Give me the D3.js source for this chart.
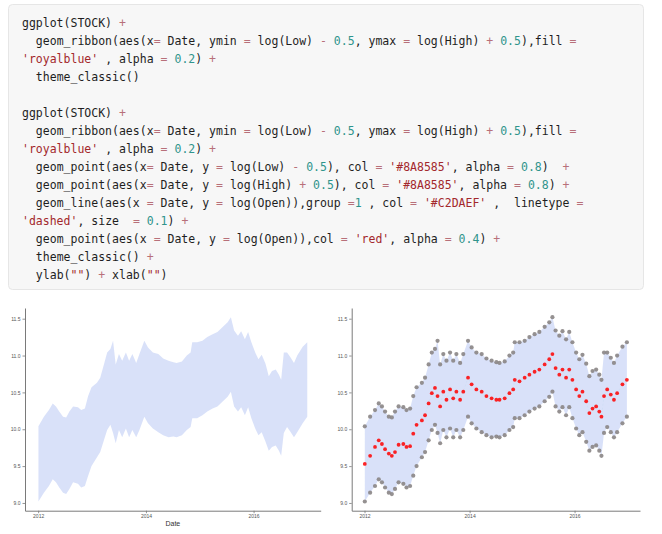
<!DOCTYPE html>
<html>
<head>
<meta charset="utf-8">
<script src="https://cdn.jsdelivr.net/npm/d3@7"></script>
<style>
  body { margin: 0; background: #fff; }
  svg { display: block; }
</style>
</head>
<body>
<svg id="page" width="662" height="534"></svg>
<script>
// R code shown above the plots
const codeLines = [
  "ggplot(STOCK) +",
  "  geom_ribbon(aes(x= Date, ymin = log(Low) - 0.5, ymax = log(High) + 0.5),fill =",
  "'royalblue' , alpha = 0.2) +",
  "  theme_classic()",
  "",
  "ggplot(STOCK) +",
  "  geom_ribbon(aes(x= Date, ymin = log(Low) - 0.5, ymax = log(High) + 0.5),fill =",
  "'royalblue' , alpha = 0.2) +",
  "  geom_point(aes(x= Date, y = log(Low) - 0.5), col = '#8A8585', alpha = 0.8)  +",
  "  geom_point(aes(x= Date, y = log(High) + 0.5), col = '#8A8585', alpha = 0.8) +",
  "  geom_line(aes(x = Date, y = log(Open)),group =1 , col = '#C2DAEF' ,  linetype =",
  "'dashed', size  = 0.1) +",
  "  geom_point(aes(x = Date, y = log(Open)),col = 'red', alpha = 0.4) +",
  "  theme_classic() +",
  "  ylab(\"\") + xlab(\"\")"
];

// STOCK data, log scale
const dates = [
  "2012-01-03","2012-02-09","2012-03-14","2012-04-09","2012-05-01","2012-05-23","2012-06-18","2012-07-09",
  "2012-07-31","2012-08-25","2012-09-27","2012-10-19","2012-11-13","2012-12-05","2012-12-28","2013-02-03",
  "2013-02-25","2013-03-22","2013-04-13","2013-05-05","2013-05-23","2013-06-10","2013-07-02","2013-07-24",
  "2013-08-18","2013-09-09","2013-10-01","2013-10-27","2013-11-18","2013-12-21","2014-01-15","2014-02-17",
  "2014-03-26","2014-04-28","2014-06-03","2014-07-06","2014-07-28","2014-09-02","2014-10-05","2014-10-31",
  "2014-11-11","2014-12-14","2015-01-19","2015-02-21","2015-03-29","2015-05-01","2015-06-07","2015-07-09",
  "2015-07-31","2015-08-22","2015-09-17","2015-10-09","2015-11-03","2015-11-25","2015-12-17","2016-01-12",
  "2016-02-03","2016-02-25","2016-03-22","2016-04-13","2016-05-05","2016-05-30","2016-06-21","2016-07-06",
  "2016-07-24","2016-08-15","2016-09-09","2016-10-01","2016-10-23","2016-11-29","2016-12-30"
];
const logOpen = [
  9.53, 9.64, 9.76, 9.85, 9.80, 9.73, 9.67, 9.64, 9.69, 9.79, 9.80, 9.76, 9.77, 9.94, 10.06, 10.12,
  10.19, 10.35, 10.49, 10.56, 10.45, 10.31, 10.51, 10.40, 10.54, 10.42, 10.51, 10.40, 10.51, 10.70, 10.61, 10.54,
  10.51, 10.45, 10.42, 10.40, 10.40, 10.42, 10.49, 10.54, 10.67, 10.65, 10.70, 10.74, 10.78, 10.81, 10.88, 10.95,
  11.02, 10.83, 10.74, 10.81, 10.70, 10.81, 10.67, 10.54, 10.45, 10.51, 10.38, 10.22, 10.28, 10.31, 10.24, 10.17,
  10.45, 10.54, 10.47, 10.40, 10.49, 10.61, 10.67
];
const logHigh = [
  9.54, 9.67, 9.76, 9.85, 9.81, 9.74, 9.67, 9.66, 9.74, 9.81, 9.80, 9.76, 9.78, 9.95, 10.07, 10.13,
  10.20, 10.38, 10.54, 10.59, 10.70, 10.38, 10.52, 10.43, 10.54, 10.43, 10.52, 10.40, 10.52, 10.70, 10.61, 10.54,
  10.52, 10.46, 10.43, 10.41, 10.40, 10.42, 10.50, 10.54, 10.68, 10.68, 10.70, 10.75, 10.79, 10.82, 10.89, 10.95,
  11.02, 10.84, 10.77, 10.83, 10.72, 10.82, 10.68, 10.54, 10.45, 10.51, 10.39, 10.22, 10.29, 10.31, 10.24, 10.17,
  10.54, 10.54, 10.47, 10.40, 10.50, 10.62, 10.68
];
const logLow = [
  9.52, 9.64, 9.73, 9.82, 9.78, 9.71, 9.64, 9.62, 9.69, 9.78, 9.76, 9.71, 9.73, 9.87, 10.00, 10.12,
  10.19, 10.35, 10.49, 10.56, 10.45, 10.31, 10.49, 10.39, 10.51, 10.39, 10.49, 10.39, 10.49, 10.67, 10.58, 10.51,
  10.46, 10.42, 10.39, 10.40, 10.39, 10.42, 10.49, 10.53, 10.65, 10.65, 10.69, 10.74, 10.78, 10.81, 10.88, 10.94,
  11.01, 10.81, 10.74, 10.80, 10.69, 10.80, 10.65, 10.51, 10.42, 10.46, 10.33, 10.21, 10.26, 10.28, 10.21, 10.14,
  10.45, 10.53, 10.46, 10.39, 10.46, 10.58, 10.67
];

const yTicks = [9.0, 9.5, 10.0, 10.5, 11.0, 11.5];
const xTickYears = [2012, 2014, 2016];

const parse = d3.timeParse("%Y-%m-%d");
const stock = dates.map((d, i) => ({
  date: parse(d), open: logOpen[i], high: logHigh[i], low: logLow[i]
}));

const svg = d3.select("#page");

// ---- code block ----
const codeX = 22, codeTop = 27, lineH = 18, charW = 6.93;
const codeColors = { str: "#a3282c", num: "#2f948c", op: "#b8707a", txt: "#1e1e1e" };

svg.append("rect")
    .attr("x", 8.5).attr("y", 4.5)
    .attr("width", 635).attr("height", 285)
    .attr("rx", 4)
    .attr("fill", "#f7f7f7")
    .attr("stroke", "#e6e6e6");

const tokenRe = /('[^']*'|"[^"]*")|(\d+\.?\d*)|([+=\-])|([^'"\d+=\-]+)/g;

codeLines.forEach((line, li) => {
  const tokens = [];
  let m;
  tokenRe.lastIndex = 0;
  while ((m = tokenRe.exec(line)) !== null) {
    const kind = m[1] ? "str" : m[2] ? "num" : m[3] ? "op" : "txt";
    tokens.push({ text: m[0], col: m.index, kind });
  }
  const t = svg.append("text")
      .attr("y", codeTop + li * lineH)
      .style("font-family", "'DejaVu Sans Mono', monospace")
      .style("font-size", "11.5px")
      .attr("xml:space", "preserve");
  t.selectAll("tspan")
    .data(tokens.filter(d => d.text.trim() !== ""))
    .join("tspan")
      .attr("x", d => codeX + (d.col + d.text.length - d.text.trimStart().length) * charW)
      .attr("fill", d => codeColors[d.kind])
      .text(d => d.text.trim());
});

// ---- plots ----
const panelTop = 308, panelBottom = 510.7;

const yExt = [d3.min(stock, d => d.low - 0.5), d3.max(stock, d => d.high + 0.5)];
const yPad = (yExt[1] - yExt[0]) * 0.05;
const tExt = d3.extent(stock, d => d.date);
const tPad = (tExt[1] - tExt[0]) * 0.05;

function drawPanel(left, right, full, xTitle) {
  const g = svg.append("g");
  const x = d3.scaleTime()
      .domain([new Date(+tExt[0] - tPad), new Date(+tExt[1] + tPad)])
      .range([left, right]);
  const y = d3.scaleLinear()
      .domain([yExt[0] - yPad, yExt[1] + yPad])
      .range([panelBottom, panelTop]);

  const area = d3.area()
      .x(d => x(d.date))
      .y0(d => y(d.low - 0.5))
      .y1(d => y(d.high + 0.5));

  g.append("path")
      .datum(stock)
      .attr("d", area)
      .attr("fill", "royalblue")
      .attr("fill-opacity", 0.2);

  if (full) {
    // grey points for ymin / ymax
    ["low", "high"].forEach(k => {
      g.append("g").selectAll("circle")
        .data(stock)
        .join("circle")
          .attr("cx", d => x(d.date))
          .attr("cy", d => y(k === "low" ? d.low - 0.5 : d.high + 0.5))
          .attr("r", 2.1)
          .attr("fill", "#8A8585")
          .attr("fill-opacity", 0.9);
    });

    g.append("path")
        .datum(stock)
        .attr("d", d3.line().x(d => x(d.date)).y(d => y(d.open)))
        .attr("fill", "none")
        .attr("stroke", "#C2DAEF")
        .attr("stroke-width", 0.4)
        .attr("stroke-dasharray", "2,2");

    g.append("g").selectAll("circle")
      .data(stock)
      .join("circle")
        .attr("cx", d => x(d.date))
        .attr("cy", d => y(d.open))
        .attr("r", 1.9)
        .attr("fill", "red")
        .attr("fill-opacity", 0.85);
  }

  const styleAxis = a => {
    a.select(".domain").attr("stroke", "#7a7a7a").attr("stroke-width", 1);
    a.selectAll(".tick line").attr("stroke", "#7a7a7a").attr("stroke-width", 0.8);
    a.selectAll(".tick text")
      .attr("fill", "#555")
      .style("font-family", "'Liberation Sans', Arial, sans-serif")
      .style("font-size", "5px");
  };

  g.append("g")
      .attr("transform", `translate(${left},0)`)
      .call(d3.axisLeft(y).tickValues(yTicks).tickFormat(d3.format(".1f"))
        .tickSize(2.5).tickSizeOuter(0).tickPadding(2))
      .call(styleAxis);

  g.append("g")
      .attr("transform", `translate(0,${panelBottom})`)
      .call(d3.axisBottom(x).tickValues(xTickYears.map(yr => new Date(yr, 0, 1)))
        .tickFormat(d3.timeFormat("%Y")).tickSize(2.5).tickSizeOuter(0).tickPadding(1.5))
      .call(styleAxis);

  if (xTitle) {
    g.append("text")
        .attr("x", (left + right) / 2)
        .attr("y", 525.5)
        .attr("text-anchor", "middle")
        .attr("fill", "#333")
        .style("font-family", "'Liberation Sans', Arial, sans-serif")
        .style("font-size", "7px")
        .text(xTitle);
  }
}

drawPanel(25, 320.7, false, "Date");
drawPanel(351.7, 640, true, "");
</script>
</body>
</html>
